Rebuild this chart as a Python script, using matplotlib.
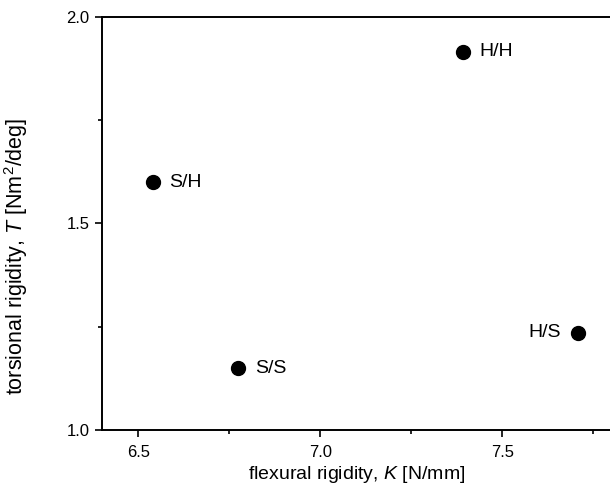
import matplotlib
matplotlib.use("Agg")
import matplotlib.pyplot as plt
from matplotlib.ticker import MultipleLocator

# data
labels = ["S/H", "S/S", "H/H", "H/S"]
flexural = [6.539, 6.774, 7.391, 7.707]    # K [N/mm]
torsional = [1.600, 1.149, 1.915, 1.235]   # T [Nm^2/deg]
label_side = ["right", "right", "right", "left"]

plt.rcParams["font.family"] = ["Liberation Sans", "DejaVu Sans"]
plt.rcParams["mathtext.fontset"] = "custom"
plt.rcParams["mathtext.rm"] = "Liberation Sans"
plt.rcParams["mathtext.it"] = "Liberation Sans:italic"

fig = plt.figure(figsize=(6.10, 4.92), dpi=100)
ax = fig.add_axes([102 / 610, 1 - 430 / 492, 509.6 / 610, 413.3 / 492])

ax.plot(flexural, torsional, "o", color="black", markersize=10, linestyle="none")

for x, y, lab, side in zip(flexural, torsional, labels, label_side):
    if side == "right":
        ax.annotate(lab, (x, y), xytext=(12, 0), textcoords="offset points",
                    ha="left", va="center", fontsize=14)
    else:
        ax.annotate(lab, (x, y), xytext=(-12, 0), textcoords="offset points",
                    ha="right", va="center", fontsize=14)

ax.set_xlim(6.4, 7.8)
ax.set_ylim(1.0, 2.0)
ax.xaxis.set_major_locator(MultipleLocator(0.5))
ax.xaxis.set_minor_locator(MultipleLocator(0.25))
ax.yaxis.set_major_locator(MultipleLocator(0.5))
ax.yaxis.set_minor_locator(MultipleLocator(0.25))
ax.xaxis.set_major_formatter(plt.FormatStrFormatter("%.1f"))
ax.yaxis.set_major_formatter(plt.FormatStrFormatter("%.1f"))

ax.tick_params(which="major", direction="out", length=5, width=1.2, labelsize=12, pad=4)
ax.tick_params(axis="x", which="major", pad=6)
ax.tick_params(which="minor", direction="out", length=3, width=1.2)
ax.tick_params(top=False, right=False)

for s in ["left", "bottom", "top", "right"]:
    ax.spines[s].set_linewidth(1.4)
ax.spines["right"].set_visible(False)

ax.set_xlabel("flexural rigidity, $K$ [N/mm]", fontsize=14, labelpad=3)
ax.set_ylabel("torsional rigidity, $T$ [Nm$^2$/deg]", fontsize=15.5)
ax.yaxis.set_label_coords(-0.141, 0.42)

fig.savefig("out.png", dpi=100)
